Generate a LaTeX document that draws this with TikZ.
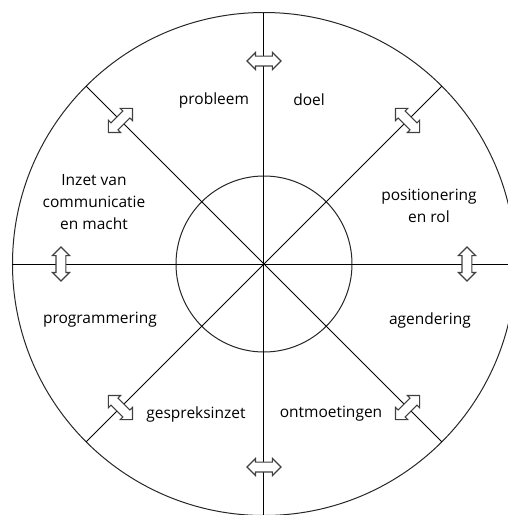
\documentclass[tikz,border=0pt]{standalone}
\usepackage{fontspec}
\setmainfont{Open Sans}
\usetikzlibrary{shapes.arrows}

\begin{document}
\begin{tikzpicture}[x=0.5pt, y=0.5pt,
  ring/.style={draw=black!85, line width=0.5pt},
  spoke/.style={draw, line width=0.5pt},
  dbl/.style={double arrow, draw=black!75, fill=white, line width=0.55pt,
    inner xsep=0pt, inner ysep=2.2pt, minimum height=17pt, double arrow head extend=1.8pt},
  lbl/.style={align=center, font=\fontsize{7.75}{11}\selectfont}
]

\clip (-264,-251) rectangle (244,264);
\coordinate (c) at (0,0);

% Rings
\draw[ring] (c) circle (251.5);
\draw[ring] (c) circle (88);

% Spokes
\foreach \a in {0,45,...,315}
  \draw[spoke] (c) -- (\a:251.5);

% Double arrows across the spokes
\foreach \a in {0,45,...,315}
  \node[dbl, rotate=\a+90] (arr\a) at (\a:203) {};

% Sectors
\node[lbl] (probleem) at (-50,164) {probleem};
\node[lbl] (doel) at (45,164) {doel};
\node[lbl] (positie) at (165,58) {positionering\\en rol};
\node[lbl] (agenda) at (166,-56) {agendering};
\node[lbl] (ontmoet) at (67,-150) {ontmoetingen};
\node[lbl] (gesprek) at (-68,-150) {gespreksinzet};
\node[lbl] (program) at (-164,-56) {programmering};
\node[lbl] (inzet) at (-170,62) {Inzet van\\communicatie\\en macht};

\end{tikzpicture}
\end{document}
